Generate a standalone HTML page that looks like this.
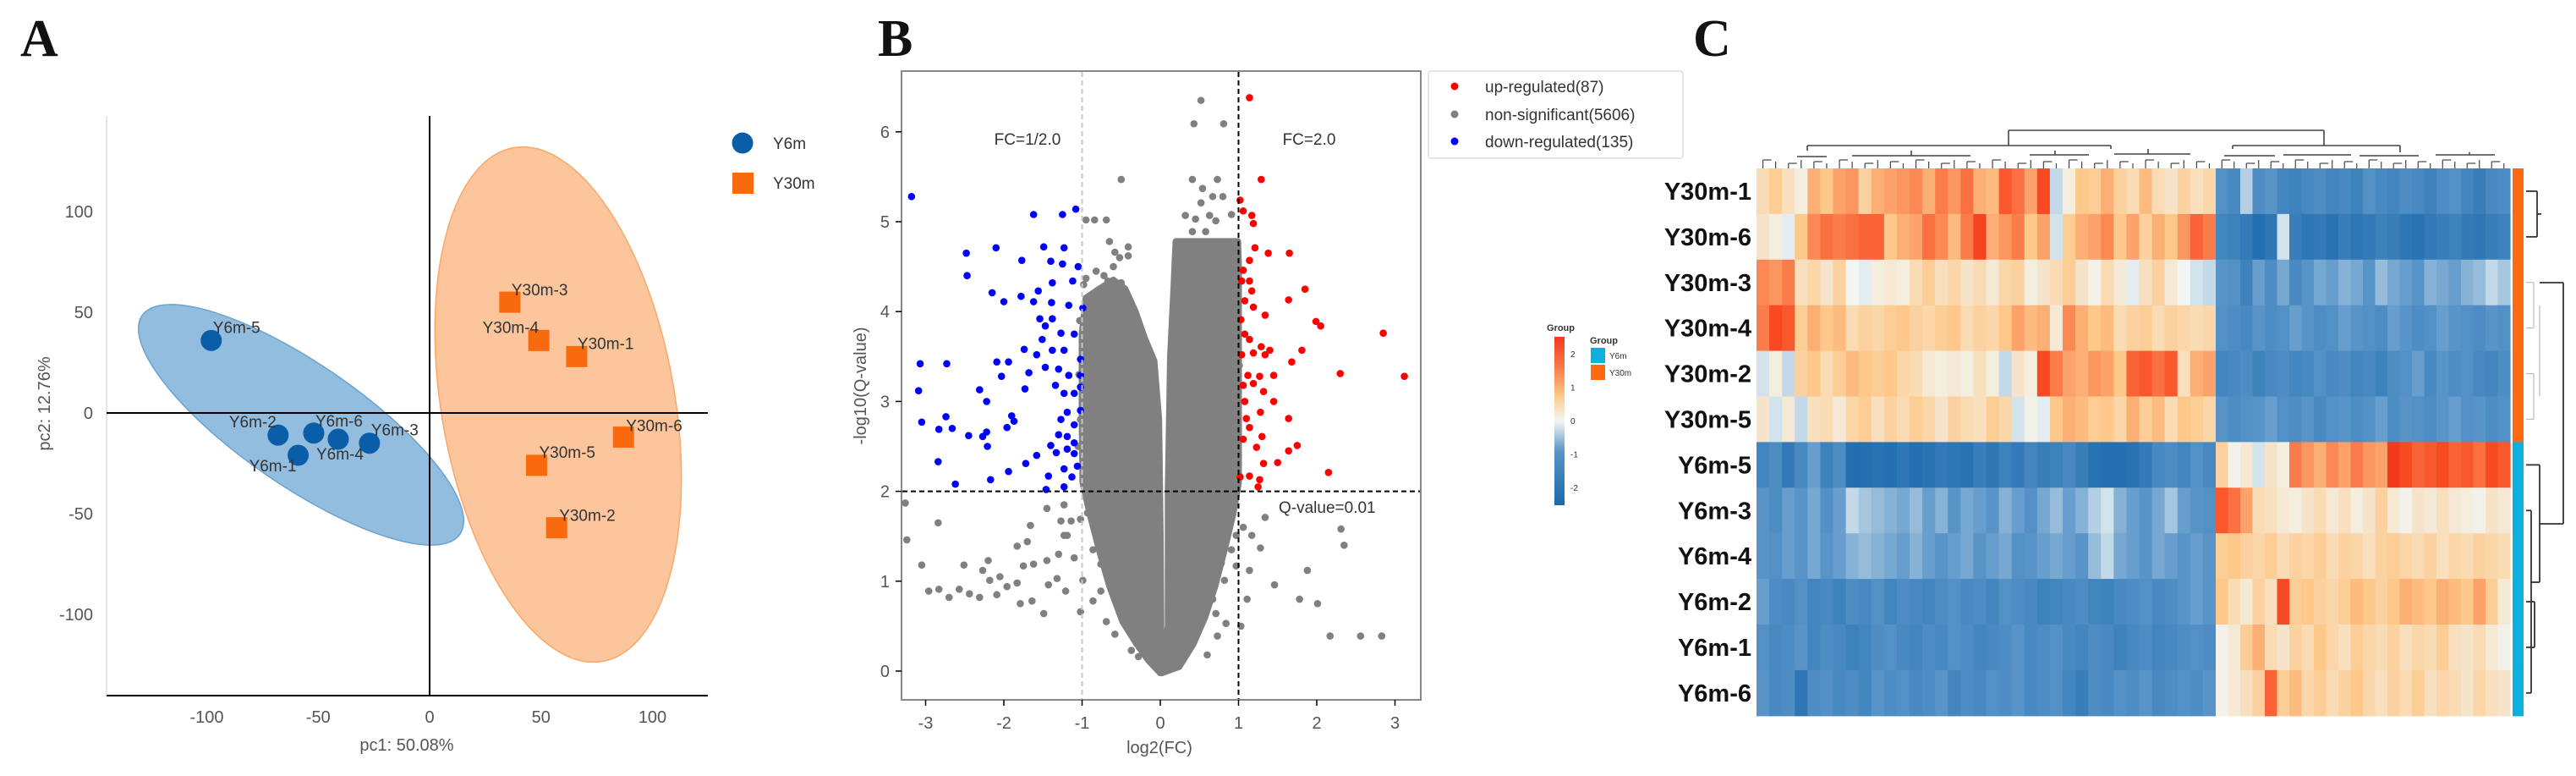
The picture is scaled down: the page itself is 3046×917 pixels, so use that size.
<!DOCTYPE html>
<html><head><meta charset="utf-8"><title>PCA, volcano and heatmap</title>
<style>
html,body{margin:0;padding:0;background:#fff;}
svg{display:block;}
text{font-family:"Liberation Sans",Arial,sans-serif;}
.pl{font-family:"Liberation Serif",serif;font-weight:bold;font-size:62px;fill:#111;}
.tk{font-size:20px;fill:#555;}
.lab{font-size:19px;fill:#333;}
.rl{font-size:29px;font-weight:bold;fill:#111;}
</style></head>
<body>
<svg id="fig" width="3046" height="917" viewBox="0 0 3046 917" xmlns="http://www.w3.org/2000/svg">
  <text class="pl" x="24" y="66">A</text>
  <text class="pl" x="1038" y="66">B</text>
  <text class="pl" x="2002" y="66">C</text>
  <g id="pca"></g>
  <g id="volcano"></g>
  <g id="heat"></g>
</svg>
<script>
const NS="http://www.w3.org/2000/svg";
function mk(parent,tag,attrs,txt){const e=document.createElementNS(NS,tag);for(const k in attrs)e.setAttribute(k,attrs[k]);if(txt!==undefined)e.textContent=txt;parent.appendChild(e);return e;}

/* ---------- Panel A data ---------- */
const pcaNames6=["Y6m-5","Y6m-2","Y6m-1","Y6m-6","Y6m-4","Y6m-3"];
const pcaX6=[-98,-68,-59,-52,-41,-27];
const pcaY6=[36,-11,-21,-10,-13,-15];
const pcaNames30=["Y30m-3","Y30m-4","Y30m-1","Y30m-6","Y30m-5","Y30m-2"];
const pcaX30=[36,49,66,87,48,57];
const pcaY30=[55,36,28,-12,-26,-57];
const pcaTicksX=[-100,-50,0,50,100];
const pcaTicksY=[100,50,0,-50,-100];

/* ---------- Panel B data ---------- */
const upX=[1.14,1.29,1.02,1.06,1.17,1.19,1.21,1.38,1.65,1.14,1.06,1.04,1.14,1.17,1.85,1.08,1.64,1.19,1.34,1.03,1.99,2.05,2.85,1.08,1.14,1.29,1.40,1.19,1.81,1.04,1.34,1.68,1.12,1.27,1.45,2.30,3.12,1.06,1.19,1.32,1.08,1.45,1.28,1.10,1.64,1.14,1.06,1.30,1.23,1.75,1.64,1.32,1.50,2.15,1.02,1.14,1.27,1.25];
const upY=[6.38,5.47,5.24,5.12,5.07,4.98,4.71,4.65,4.65,4.57,4.46,4.34,4.34,4.23,4.25,4.12,4.13,4.05,3.96,3.91,3.89,3.84,3.76,3.75,3.69,3.61,3.57,3.54,3.57,3.52,3.52,3.44,3.29,3.28,3.29,3.31,3.28,3.18,3.20,3.11,3.00,3.00,2.88,2.81,2.81,2.71,2.58,2.61,2.49,2.51,2.45,2.31,2.32,2.21,2.16,2.17,2.13,2.05];
const downX=[-3.18,-1.62,-1.25,-1.08,-2.48,-2.10,-2.47,-1.77,-1.49,-1.23,-1.40,-1.25,-1.05,-2.15,-2.00,-1.78,-1.62,-1.56,-1.38,-1.39,-1.17,-1.12,-0.99,-1.54,-1.38,-1.47,-1.27,-1.10,-1.51,-1.74,-1.58,-1.38,-1.23,-1.02,-3.07,-2.73,-2.09,-1.94,-2.03,-1.68,-1.47,-1.30,-1.17,-1.02,-3.09,-2.31,-1.73,-1.34,-1.23,-1.10,-1.02,-2.22,-1.19,-1.02,-2.74,-1.90,-3.05,-1.87,-1.27,-1.10,-2.83,-2.66,-1.96,-2.22,-2.45,-2.27,-1.30,-1.19,-2.21,-1.40,-1.10,-1.33,-1.19,-1.10,-2.84,-1.58,-1.72,-1.06,-1.23,-1.94,-2.17,-2.62,-1.43,-1.13,-1.46,-1.23];
const downY=[5.28,5.08,5.08,5.14,4.65,4.71,4.40,4.57,4.72,4.71,4.56,4.53,4.50,4.21,4.11,4.17,4.11,4.23,4.32,4.10,4.07,4.34,4.04,3.92,3.92,3.84,3.76,3.75,3.69,3.58,3.52,3.57,3.57,3.47,3.42,3.42,3.44,3.44,3.28,3.32,3.38,3.36,3.29,3.29,3.12,3.13,3.14,3.18,3.09,3.09,3.16,3.00,2.88,2.90,2.83,2.84,2.77,2.78,2.80,2.74,2.69,2.70,2.71,2.66,2.62,2.61,2.63,2.61,2.50,2.51,2.54,2.43,2.47,2.42,2.33,2.40,2.31,2.28,2.25,2.22,2.13,2.08,2.17,2.16,2.02,2.05];
const nsX=[0.52,0.43,0.81,-0.50,0.41,0.73,0.54,0.67,0.80,0.52,0.32,0.45,0.63,0.71,0.91,0.41,0.58,-0.95,-0.84,-0.69,-0.95,-0.82,-0.65,-0.58,-0.41,-0.41,-0.67,-0.50,
 -3.26,-3.24,-2.84,-3.05,-2.51,-2.96,-2.83,-2.70,-2.57,-2.44,-2.31,-2.20,-2.27,-2.18,-2.09,-2.05,-1.96,-1.83,-1.83,-1.70,-1.66,-1.75,-1.62,-1.79,-1.64,-1.45,-1.43,-1.32,-1.49,-1.30,-1.45,-1.23,-1.23,-1.27,-1.14,-1.10,-1.21,-1.02,-0.99,-1.19,
 1.34,2.31,2.35,1.06,1.17,1.28,1.14,1.88,1.46,1.11,1.78,2.01,1.03,2.17,2.56,2.83,0.84,0.73,0.60,0.71,0.82,0.67,0.91,0.91,0.97,0.97,
 -0.86,-0.76,-0.76,-0.86,-0.69,-0.58,-0.37,-0.28,-0.93,-0.91,-0.95,-0.91,-1.02,
 -1.03,-1.04,-1.02,-1.05,-0.98,0.99,1.01,0.98,1.0,-0.6,-0.72,-0.52,0.65,0.78,0.88];
const nsY=[6.35,6.09,6.09,5.47,5.47,5.47,5.37,5.28,5.28,5.21,5.07,5.03,5.07,5.01,5.08,4.89,4.89,5.02,5.02,5.02,4.37,4.45,4.78,4.66,4.72,4.62,4.34,4.32,
 1.87,1.46,1.65,1.18,1.18,0.89,0.91,0.82,0.91,0.86,0.82,1.23,1.12,1.01,0.85,1.05,0.94,0.98,1.39,1.44,1.62,1.17,1.19,0.75,0.78,1.23,0.96,1.03,0.64,1.30,1.81,1.51,1.85,1.67,1.67,1.26,0.89,0.66,1.01,1.51,
 1.71,1.58,1.40,1.60,1.51,1.37,1.12,1.12,0.96,0.80,0.80,0.75,0.50,0.39,0.39,0.39,0.53,0.39,0.18,0.64,1.01,0.80,1.35,1.76,1.51,1.17,
 1.35,1.19,0.89,0.78,0.55,0.41,0.23,0.16,1.76,1.92,2.35,2.15,1.69,
 3.9,3.3,2.8,2.5,4.3,4.0,3.4,2.9,2.4,4.5,4.4,4.6,0.9,1.2,1.6];
const massLeftX=[0,-0.15,-0.3,-0.48,-0.65,-0.78,-0.9,-0.99,-1.0,-1.0,-0.95,-0.78,-0.6,-0.45,-0.32,-0.2,-0.08,-0.02,0.0,0.01];
const massLeftY=[-0.02,0.12,0.3,0.55,0.95,1.35,1.75,2.1,2.8,3.75,4.15,4.25,4.35,4.25,4.0,3.7,3.45,2.8,1.5,0.3];
const massRightX=[0.02,0.1,0.1,0.13,0.17,0.2,0.99,1.0,1.0,0.93,0.82,0.7,0.57,0.42,0.24];
const massRightY=[-0.02,0.5,2.0,3.5,4.2,4.78,4.78,4.5,2.1,1.75,1.35,0.95,0.6,0.3,0.05];
const volTicksX=[-3,-2,-1,0,1,2,3];
const volTicksY=[0,1,2,3,4,5,6];

/* ---------- Panel C data ---------- */
const rowNames=["Y30m-1","Y30m-6","Y30m-3","Y30m-4","Y30m-2","Y30m-5","Y6m-5","Y6m-3","Y6m-4","Y6m-2","Y6m-1","Y6m-6"];
const rowGroup=["Y30m","Y30m","Y30m","Y30m","Y30m","Y30m","Y6m","Y6m","Y6m","Y6m","Y6m","Y6m"];
const leftVals=[
[0.6,0.9,0.5,0.2,1.2,1.0,1.3,1.4,0.8,1.2,1.3,1.4,1.5,1.2,1.6,1.4,1.7,1.2,1.1,1.9,1.7,1.3,2.0,-0.3,0.2,1.0,0.9,1.2,0.8,0.6,1.1,0.6,0.4,0.8,0.5,0.7],
[0.4,0.2,-0.1,1.0,1.5,1.7,1.6,1.7,1.8,1.8,1.0,1.2,1.3,1.7,1.5,1.1,1.6,2.1,1.2,1.4,1.6,1.0,1.3,-0.2,0.9,1.2,1.3,1.5,1.0,1.3,0.8,1.2,1.0,1.4,1.8,1.6],
[1.5,1.4,1.6,0.5,0.7,0.4,0.8,0.0,-0.1,0.2,0.3,0.2,0.6,0.9,0.5,0.7,0.4,0.6,0.3,0.7,0.8,0.2,0.4,0.6,0.9,0.4,0.1,0.6,0.3,-0.1,0.5,0.8,0.3,0.0,-0.2,-0.3],
[1.6,2.0,1.9,0.9,1.2,1.0,1.1,0.6,0.8,0.7,0.9,1.0,0.8,0.7,0.9,1.0,0.6,0.8,0.7,1.0,1.3,1.1,1.2,0.3,1.5,1.2,1.0,1.1,0.6,0.8,0.9,0.6,0.8,0.7,0.6,0.7],
[-0.2,0.2,-0.3,0.8,1.0,0.6,0.9,1.1,1.0,0.9,1.0,0.7,0.6,0.3,0.2,0.3,0.2,0.5,0.2,-0.3,0.4,0.2,2.0,1.6,1.3,1.2,1.4,1.3,1.0,1.8,1.9,1.7,1.9,0.5,1.2,1.3],
[0.4,-0.2,0.3,-0.3,0.5,0.6,0.3,0.7,0.9,0.5,0.8,0.6,0.9,0.7,0.4,0.8,0.6,0.5,0.9,0.7,-0.2,0.1,-0.1,1.0,1.2,1.1,0.9,1.0,0.7,1.2,0.9,1.1,0.6,1.0,0.9,0.7],
[-1.4,-1.2,-1.7,-1.3,-0.9,-1.5,-1.2,-2.0,-2.0,-1.9,-2.0,-1.8,-2.0,-1.9,-1.7,-1.8,-1.9,-1.6,-1.8,-1.5,-1.7,-1.4,-1.6,-1.5,-1.3,-1.6,-1.9,-2.0,-2.0,-1.9,-1.7,-1.3,-1.2,-1.4,-1.1,-1.3],
[-1.0,-1.2,-0.9,-1.0,-0.8,-1.1,-0.9,-0.3,-0.5,-0.6,-0.7,-0.8,-0.6,-0.9,-0.7,-1.0,-0.8,-0.9,-1.0,-0.7,-0.9,-1.1,-0.8,-0.6,-0.9,-0.7,-0.4,-0.2,-0.7,-0.9,-1.0,-0.8,-0.5,-0.9,-1.0,-1.1],
[-1.0,-1.1,-0.9,-1.0,-0.8,-1.0,-0.9,-0.7,-0.6,-0.7,-0.8,-0.9,-0.7,-0.9,-1.0,-0.9,-0.8,-1.0,-0.9,-0.8,-1.1,-1.0,-0.9,-0.8,-0.9,-1.0,-0.6,-0.3,-0.8,-0.9,-1.0,-0.8,-0.9,-1.0,-0.9,-1.0],
[-0.9,-1.2,-1.3,-1.1,-1.4,-1.3,-1.5,-1.2,-1.3,-1.1,-1.4,-1.2,-1.3,-1.4,-1.2,-1.1,-1.3,-1.2,-1.4,-1.1,-1.2,-1.3,-1.5,-1.4,-1.3,-1.2,-1.4,-1.5,-1.3,-1.2,-1.1,-1.3,-1.2,-1.0,-0.9,-1.0],
[-1.1,-1.3,-1.2,-1.0,-1.4,-1.2,-1.3,-1.5,-1.4,-1.2,-1.1,-1.3,-1.4,-1.2,-1.3,-1.1,-1.2,-1.4,-1.3,-1.2,-1.0,-1.3,-1.2,-1.1,-1.3,-1.4,-1.2,-1.3,-1.5,-1.3,-1.2,-1.4,-1.3,-1.2,-1.1,-1.2],
[-1.0,-1.3,-1.2,-1.8,-1.2,-1.1,-1.3,-1.2,-1.4,-1.0,-1.2,-1.1,-1.3,-1.2,-1.0,-1.4,-1.2,-1.3,-1.1,-1.2,-1.0,-1.3,-1.2,-1.1,-1.4,-1.6,-1.2,-1.3,-1.1,-1.2,-1.0,-1.3,-1.2,-1.1,-1.2,-1.0]];
const rightVals=[
[-1.1,-1.3,-0.4,-1.2,-1.0,-1.4,-1.5,-1.3,-1.2,-1.4,-1.3,-1.5,-1.1,-1.3,-1.4,-1.2,-1.3,-1.5,-1.2,-1.1,-1.4,-1.6,-1.3,-1.2],
[-1.4,-1.5,-1.7,-2.0,-1.8,-0.2,-1.6,-1.8,-1.7,-1.9,-1.6,-1.8,-1.7,-1.5,-1.6,-1.8,-1.9,-1.7,-1.6,-1.5,-1.7,-1.8,-1.6,-1.5],
[-1.0,-1.1,-1.5,-0.9,-1.2,-0.8,-1.3,-1.0,-0.8,-0.9,-0.7,-0.8,-1.0,-0.6,-0.8,-0.9,-1.0,-0.7,-0.8,-0.9,-0.7,-0.6,-0.3,-0.5],
[-1.1,-1.2,-1.3,-1.0,-1.2,-1.1,-0.9,-1.0,-1.2,-1.1,-0.9,-1.0,-1.1,-1.2,-0.9,-1.0,-1.2,-1.1,-0.9,-1.0,-1.1,-1.2,-1.0,-1.1],
[-1.4,-1.3,-1.2,-1.5,-1.3,-1.2,-1.4,-1.3,-1.1,-1.3,-1.2,-1.4,-1.3,-1.5,-1.2,-1.1,-0.9,-1.3,-1.0,-1.2,-1.1,-1.3,-1.4,-1.2],
[-1.0,-1.2,-1.1,-1.0,-0.9,-1.1,-1.2,-1.0,-1.3,-1.1,-1.0,-1.2,-1.1,-0.9,-1.2,-1.0,-1.1,-1.2,-1.0,-0.9,-1.1,-1.0,-1.2,-1.1],
[0.8,0.1,0.3,-0.2,0.4,0.2,1.6,1.4,1.2,1.5,1.3,1.6,1.4,1.3,2.2,2.0,1.8,1.9,2.0,1.8,1.9,1.7,2.0,1.9],
[1.9,1.7,1.3,0.6,0.5,0.3,0.2,0.4,0.6,0.3,0.5,0.2,0.4,0.8,0.3,0.1,0.4,0.3,0.5,0.3,0.2,0.1,0.4,0.3],
[0.9,1.0,0.8,0.7,0.9,0.6,0.8,0.7,0.9,0.6,0.8,0.7,0.5,0.8,0.9,0.7,0.6,0.8,0.5,0.7,0.6,0.8,0.7,0.6],
[1.0,0.6,0.3,0.8,0.5,2.0,0.9,1.0,0.8,0.7,0.9,1.1,1.0,0.8,1.0,1.2,1.1,1.0,1.2,1.1,1.0,1.3,0.9,0.3],
[0.1,0.3,0.9,1.2,0.6,0.4,0.8,0.6,1.0,0.7,0.5,0.9,0.7,0.6,0.8,0.5,0.7,0.6,0.9,0.5,0.4,0.6,0.3,0.1],
[0.1,0.3,0.5,0.8,1.8,0.9,1.1,0.7,0.9,0.6,0.8,1.0,0.7,0.5,0.8,0.6,0.9,0.5,0.7,0.6,0.4,0.7,0.5,0.4]];
const scaleTicks=[2,1,0,-1,-2];

/* ================= Panel A ================= */
(function(){
  const g=document.getElementById('pca');
  const xA=v=>508+v*2.635, yA=v=>488-v*2.38;
  let e;
  e=mk(g,'ellipse',{cx:356,cy:502,rx:228,ry:72,transform:'rotate(34.5 356 502)',fill:'#7fb1d9','fill-opacity':'0.85',stroke:'#6aa3d0','stroke-width':1.5});
  
  
  e=mk(g,'ellipse',{cx:660,cy:478,rx:308,ry:138,transform:'rotate(80.2 660 478)',fill:'#fcbf91','fill-opacity':'0.9',stroke:'#f9a868','stroke-width':1.5});
  
  
  mk(g,'line',{x1:126,y1:137,x2:126,y2:822,stroke:'#ddd','stroke-width':1.5});
  e=mk(g,'line',{x1:126,y1:yA(0),x2:837,y2:yA(0),stroke:'#000','stroke-width':2});
  
  
  e=mk(g,'line',{x1:xA(0),y1:137,x2:xA(0),y2:822,stroke:'#000','stroke-width':2});
  
  
  e=mk(g,'line',{x1:126,y1:822,x2:837,y2:822,stroke:'#000','stroke-width':2});
  
  
  pcaTicksX.forEach(t=>{const tx=mk(g,'text',{x:xA(t),y:854,'text-anchor':'middle',class:'tk'},String(t));
    
    });
  pcaTicksY.forEach(t=>{const tx=mk(g,'text',{x:110,y:yA(t)+7,'text-anchor':'end',class:'tk'},String(t));
    
    });
  e=mk(g,'text',{x:481,y:887,'text-anchor':'middle',class:'tk'},'pc1: 50.08%');
  
  
  e=mk(g,'text',{x:0,y:0,'text-anchor':'middle',class:'tk',transform:'translate(59 477) rotate(-90)'},'pc2: 12.76%');
  
  
  const off6={"Y6m-5":[2,-9,'start'],"Y6m-2":[-2,-9,'end'],"Y6m-1":[-2,19,'end'],"Y6m-6":[2,-8,'start'],"Y6m-4":[-26,24,'start'],"Y6m-3":[2,-9,'start']};
  pcaNames6.forEach((n,i)=>{const cx=xA(pcaX6[i]),cy=yA(pcaY6[i]);
    const c=mk(g,'circle',{cx:cx,cy:cy,r:12.5,fill:'#0a5ea8'});
    
    
    const o=off6[n];const t=mk(g,'text',{x:cx+o[0],y:cy+o[1],'text-anchor':o[2],class:'lab'},n);
    
    });
  const off30={"Y30m-3":[2,-8,'start'],"Y30m-4":[0,-9,'end'],"Y30m-1":[1,-9,'start'],"Y30m-6":[3,-7,'start'],"Y30m-5":[3,-9,'start'],"Y30m-2":[3,-8,'start']};
  pcaNames30.forEach((n,i)=>{const cx=xA(pcaX30[i]),cy=yA(pcaY30[i]);
    const s=mk(g,'rect',{x:cx-12.5,y:cy-12.5,width:25,height:25,fill:'#f96a0e'});
    
    
    const o=off30[n];const t=mk(g,'text',{x:cx+o[0],y:cy+o[1],'text-anchor':o[2],class:'lab'},n);
    
    });
  e=mk(g,'circle',{cx:878,cy:169,r:12.5,fill:'#0a5ea8'});
  
  
  e=mk(g,'rect',{x:866,y:204,width:25,height:25,fill:'#f96a0e'});
  
  
  e=mk(g,'text',{x:914,y:176,class:'lab'},'Y6m');
  
  
  e=mk(g,'text',{x:914,y:223,class:'lab'},'Y30m');
  
  
})();

/* ================= Panel B ================= */
(function(){
  const g=document.getElementById('volcano');
  const xB=v=>1372+v*92.5, yB=v=>793-v*106.2;
  let e;
  e=mk(g,'rect',{x:1066,y:84,width:614,height:743,fill:'#fff',stroke:'#888','stroke-width':2});
  
  
  function poly(xs,ys,name){let d=xs.map((x,i)=>(i?'L':'M')+xB(x).toFixed(1)+' '+yB(ys[i]).toFixed(1)).join(' ')+' Z';
    const p=mk(g,'path',{d:d,fill:'#808080',stroke:'#808080','stroke-width':8,'stroke-linejoin':'round'});
    
    }
  poly(massLeftX,massLeftY,'nonsig-density-left');
  poly(massRightX,massRightY,'nonsig-density-right');
  nsX.forEach((x,i)=>{const c=mk(g,'circle',{cx:xB(x),cy:yB(nsY[i]),r:4.3,fill:'#808080'});
    
    });
  downX.forEach((x,i)=>{const c=mk(g,'circle',{cx:xB(x),cy:yB(downY[i]),r:4.3,fill:'#0000ff'});
    
    });
  upX.forEach((x,i)=>{const c=mk(g,'circle',{cx:xB(x),cy:yB(upY[i]),r:4.3,fill:'#ff0000'});
    
    });
  e=mk(g,'line',{x1:xB(-1),y1:85,x2:xB(-1),y2:826,stroke:'#c8c8c8','stroke-width':2,'stroke-dasharray':'6,4'});
  
  
  e=mk(g,'line',{x1:xB(1),y1:85,x2:xB(1),y2:826,stroke:'#000','stroke-width':2,'stroke-dasharray':'6,4'});
  
  
  e=mk(g,'line',{x1:1067,y1:yB(2),x2:1679,y2:yB(2),stroke:'#000','stroke-width':2,'stroke-dasharray':'6,4'});
  
  
  e=mk(g,'text',{x:1215,y:171,'text-anchor':'middle',class:'lab'},'FC=1/2.0');
  
  
  e=mk(g,'text',{x:1548,y:171,'text-anchor':'middle',class:'lab'},'FC=2.0');
  
  
  e=mk(g,'text',{x:1512,y:606,class:'lab'},'Q-value=0.01');
  
  
  volTicksX.forEach(t=>{mk(g,'line',{x1:xB(t),y1:827,x2:xB(t),y2:834,stroke:'#000','stroke-width':1.5});
    const tx=mk(g,'text',{x:xB(t),y:861,'text-anchor':'middle',class:'tk'},String(t));
    
    });
  volTicksY.forEach(t=>{mk(g,'line',{x1:1059,y1:yB(t),x2:1066,y2:yB(t),stroke:'#000','stroke-width':1.5});
    const tx=mk(g,'text',{x:1052,y:yB(t)+7,'text-anchor':'end',class:'tk'},String(t));
    
    });
  e=mk(g,'text',{x:1371,y:890,'text-anchor':'middle',class:'tk'},'log2(FC)');
  
  
  e=mk(g,'text',{x:0,y:0,'text-anchor':'middle',class:'tk',transform:'translate(1024 456) rotate(-90)'},'-log10(Q-value)');
  
  
  e=mk(g,'rect',{x:1689,y:84,width:301,height:103,fill:'#fff',stroke:'#ddd','stroke-width':1.5,rx:3});
  
  
  const lg=[["up-regulated(87)","#ff0000",102],["non-significant(5606)","#808080",135],["down-regulated(135)","#0000ff",167]];
  lg.forEach(l=>{const c=mk(g,'circle',{cx:1720,cy:l[2],r:4.5,fill:l[1]});
    
    
    const t=mk(g,'text',{x:1756,y:l[2]+7,class:'lab'},l[0]);
    
    });
})();

/* ================= Panel C ================= */
(function(){
  const g=document.getElementById('heat');
  const stops=[[-2.2,[26,104,170]],[-1,[88,148,200]],[0,[242,247,245]],[1,[253,200,137]],[2,[248,74,34]],[2.3,[240,50,30]]];
  function col(v){if(v<=stops[0][0])return 'rgb('+stops[0][1]+')';
    for(let i=1;i<stops.length;i++){if(v<=stops[i][0]){const a=stops[i-1],b=stops[i],t=(v-a[0])/(b[0]-a[0]);
      return 'rgb('+a[1].map((c,k)=>Math.round(c+(b[1][k]-c)*t)).join(',')+')';}}
    return 'rgb('+stops[stops.length-1][1]+')';}
  const top=199,rh=53.9,xl=2077,xm=2620,xr=2968;
  rowNames.forEach((n,r)=>{const y=top+r*rh;
    const L=leftVals[r],R=rightVals[r];const wl=(xm-xl)/L.length,wr=(xr-xm)/R.length;
    L.forEach((v,c)=>{const cell=mk(g,'rect',{x:xl+c*wl,y:y,width:wl+0.6,height:rh+0.6,fill:col(v)});
      
      });
    R.forEach((v,c)=>{const cell=mk(g,'rect',{x:xm+c*wr,y:y,width:wr+0.6,height:rh+0.6,fill:col(v)});
      
      });
    const t=mk(g,'text',{x:2071,y:y+rh/2+10,'text-anchor':'end',class:'rl'},n);
    
    
    const gb=mk(g,'rect',{x:2971,y:y,width:13,height:rh+0.6,fill:rowGroup[r]==='Y30m'?'#fd6a12':'#0bb1db'});
    
    });
  const dg=mk(g,'g',{stroke:'#444','stroke-width':1.6,fill:'none'});
  
  
  const segs=[[2375,170,2375,154],[2375,154,2748,154],[2748,154,2748,172],
    [2137,178,2137,172],[2137,172,2496,172],[2496,172,2496,176],[2375,172,2375,170],
    [2640,176,2640,172],[2640,172,2838,172],[2838,172,2838,180],
    [2125,185,2160,185],[2190,184,2330,184],[2260,184,2260,178],[2400,183,2470,183],[2430,183,2430,178],[2500,182,2590,182],[2540,182,2540,176],
    [2630,184,2690,184],[2700,183,2780,183],[2790,184,2860,184],[2880,183,2950,183],[2920,183,2920,180]];
  segs.forEach(s=>mk(dg,'line',{x1:s[0],y1:s[1],x2:s[2],y2:s[3]}));
  const nLeaf=leftVals[0].length+rightVals[0].length;
  for(let i=0;i<nLeaf;i++){const x=i<leftVals[0].length?xl+(i+0.5)*(xm-xl)/leftVals[0].length:xm+(i-leftVals[0].length+0.5)*(xr-xm)/rightVals[0].length;
    mk(dg,'line',{x1:x,y1:189+(i%3)*2,x2:x,y2:199,'stroke-width':1.2});
    if(i%2===0)mk(dg,'line',{x1:x,y1:189+(i%3)*2,x2:x+10,y2:189+(i%3)*2,'stroke-width':1.2});}
  const rg=mk(g,'g',{stroke:'#333','stroke-width':1.8,fill:'none'});
  
  
  const c=r=>top+(r+0.5)*rh;
  const rs=[[2987,c(0),3000,c(0)],[2987,c(1),3000,c(1)],[3000,c(0),3000,c(1)],[3000,(c(0)+c(1))/2,3005,(c(0)+c(1))/2],
    [3031,334,3031,619],[3003,334,3031,334],[3003,619,3031,619],
    [2987,c(6),3003,c(6)],[3003,c(6),3003,688],[2993,688,3003,688],[2993,c(7),2993,c(11)],[2987,c(7),2993,c(7)],[2987,c(11),2993,c(11)],
    [2987,c(9),2997,c(9)],[2987,c(10),2997,c(10)],[2997,c(9),2997,c(10)]];
  rs.forEach(s=>mk(rg,'line',{x1:s[0],y1:s[1],x2:s[2],y2:s[3]}));
  const rf=mk(g,'g',{stroke:'#bbb','stroke-width':1.2,fill:'none'});
  [[2987,c(2),2996,c(2)],[2987,c(3),2996,c(3)],[2996,c(2),2996,c(3)],[2987,c(4),2996,c(4)],[2987,c(5),2996,c(5)],[2996,c(4),2996,c(5)],[3003,(c(2)+c(3))/2,3003,(c(4)+c(5))/2]]
    .forEach(s=>mk(rf,'line',{x1:s[0],y1:s[1],x2:s[2],y2:s[3]}));
  const defs=mk(g,'defs',{});
  const lgd=mk(defs,'linearGradient',{id:'sc',x1:0,y1:0,x2:0,y2:1});
  [[0,'#f03a20'],[0.18,'#fb7a45'],[0.35,'#fdc889'],[0.5,'#f2f7f5'],[0.68,'#5894c8'],[1,'#1a68aa']].forEach(s=>mk(lgd,'stop',{offset:s[0],'stop-color':s[1]}));
  let e=mk(g,'rect',{x:1838,y:398,width:12,height:199,fill:'url(#sc)'});
  
  
  e=mk(g,'text',{x:1829,y:391,style:'font-size:11px;font-weight:bold;fill:#333'},'Group');
  
  
  const sy=v=>497-v*39.5;
  scaleTicks.forEach(t=>{const tx=mk(g,'text',{x:1857,y:sy(t)+4,style:'font-size:10px;fill:#333'},String(t));
    
    });
  e=mk(g,'text',{x:1880,y:406,style:'font-size:11px;font-weight:bold;fill:#333'},'Group');
  
  
  e=mk(g,'rect',{x:1881,y:411,width:17,height:18,fill:'#0bb1db'});
  
  
  e=mk(g,'rect',{x:1881,y:431,width:17,height:18,fill:'#fd6a12'});
  
  
  e=mk(g,'text',{x:1903,y:424,style:'font-size:10px;fill:#333'},'Y6m');
  
  
  e=mk(g,'text',{x:1903,y:444,style:'font-size:10px;fill:#333'},'Y30m');
  
  
})();
</script>
</body></html>
